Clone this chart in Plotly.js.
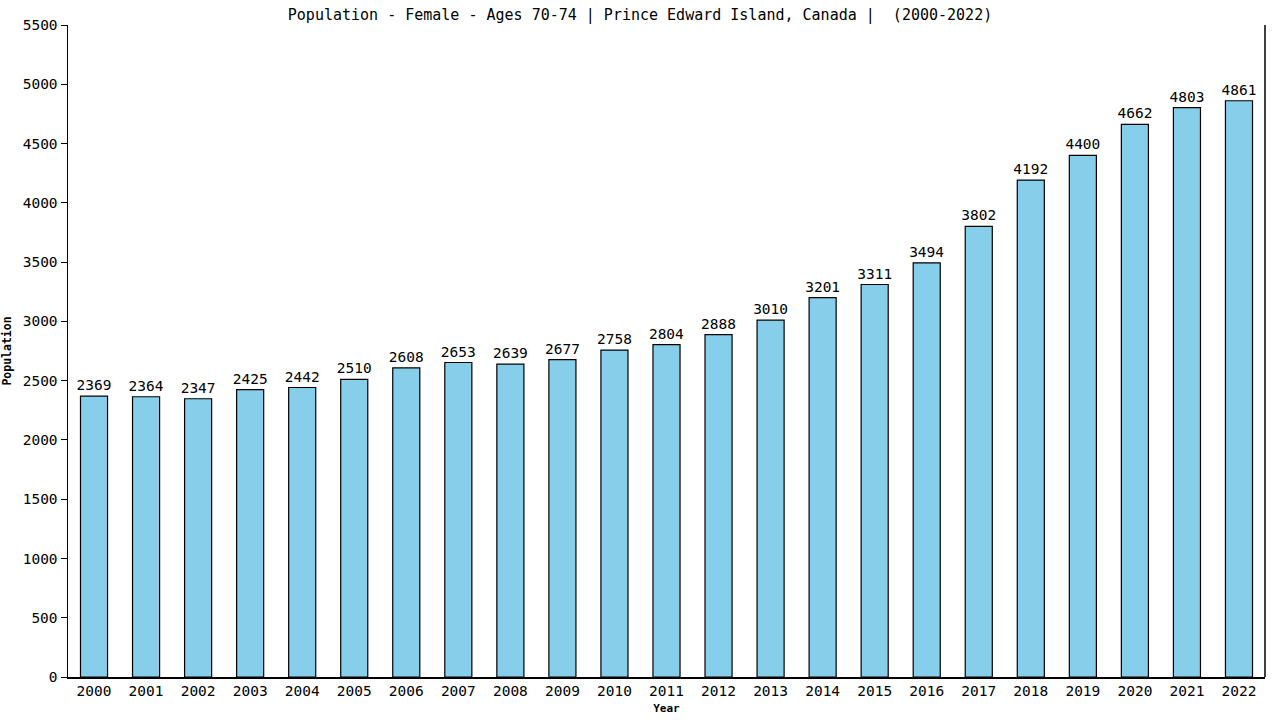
<!DOCTYPE html>
<html>
<head>
<meta charset="utf-8">
<script src="https://cdn.plot.ly/plotly-3.0.1.min.js"></script>
<style>
  html, body { margin: 0; padding: 0; background: #fff; }
  #myDiv { width: 1280px; height: 720px; }
</style>
</head>
<body>
<div id="myDiv"></div>
<script>
var years = ['2000','2001','2002','2003','2004','2005','2006','2007','2008','2009','2010','2011',
             '2012','2013','2014','2015','2016','2017','2018','2019','2020','2021','2022'];
var population = [2369,2364,2347,2425,2442,2510,2608,2653,2639,2677,2758,2804,
                  2888,3010,3201,3311,3494,3802,4192,4400,4662,4803,4861];
var yTicks = [0,500,1000,1500,2000,2500,3000,3500,4000,4500,5000,5500];

var font = 'DejaVu Sans Mono, monospace';

var bars = {
    x: years,
    y: population,
    type: 'bar',
    width: 0.52,
    marker: {
        color: '#87CEEB',
        line: { color: '#000', width: 1.2 }
    },
    text: population.map(String),
    textposition: 'outside',
    constraintext: 'none',
    cliponaxis: false,
    textfont: { family: font, size: 14.5, color: '#000' },
    hoverinfo: 'x+y'
};

var layout = {
    width: 1280,
    height: 720,
    margin: { l: 68, r: 15, t: 25, b: 43 },
    paper_bgcolor: '#fff',
    plot_bgcolor: '#fff',
    font: { family: font, color: '#000' },
    showlegend: false,
    title: {
        text: 'Population - Female - Ages 70-74 | Prince Edward Island, Canada |  (2000-2022)',
        font: { family: font, size: 15, color: '#000' },
        x: 0.5,
        xanchor: 'center',
        y: 0.98,
        yanchor: 'middle'
    },
    xaxis: {
        type: 'category',
        title: { text: '<b>Year</b>', font: { family: font, size: 11 }, standoff: 6 },
        tickfont: { family: font, size: 14.5 },
        tickmode: 'array',
        tickvals: years,
        ticktext: years,
        showline: true,
        linecolor: '#000',
        linewidth: 1.5,
        ticks: '',
        showgrid: false,
        zeroline: false
    },
    yaxis: {
        title: { text: '<b>Population</b>', font: { family: font, size: 11.5 }, standoff: 12 },
        range: [0, 5500],
        tickvals: yTicks,
        ticktext: yTicks.map(String),
        tickfont: { family: font, size: 14.5 },
        showline: true,
        linecolor: '#000',
        linewidth: 1.5,
        ticks: 'outside',
        ticklen: 6,
        tickcolor: '#000',
        showgrid: false,
        zeroline: false
    },
    shapes: [{
        type: 'line', xref: 'paper', yref: 'paper',
        x0: 1, x1: 1, y0: 0, y1: 1,
        line: { color: '#000', width: 1.5 }
    }]
};

Plotly.newPlot('myDiv', [bars], layout, { displayModeBar: false, staticPlot: true });
</script>
</body>
</html>
